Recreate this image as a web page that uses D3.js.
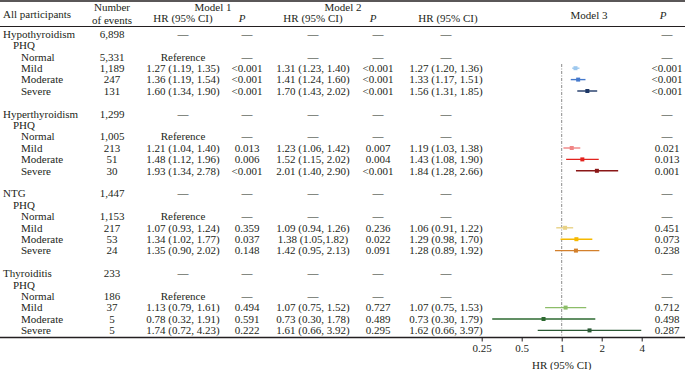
<!DOCTYPE html>
<html><head><meta charset="utf-8">
<script src="https://cdn.jsdelivr.net/npm/d3@7"></script>
<style>
body{margin:0;background:#fff;}
svg text{font-family:"Liberation Serif","DejaVu Serif",serif;font-size:11px;fill:#231f20;}
</style></head><body>
<svg id="c" width="685" height="370"></svg>
<script>
const groups = ["Hypothyroidism","Hyperthyroidism","NTG","Thyroiditis"];
const groupEvents = ["6,898","1,299","1,447","233"];
const levels = ["Normal","Mild","Moderate","Severe"];
const events = [["5,331","1,189","247","131"],["1,005","213","51","30"],["1,153","217","53","24"],["186","37","5","5"]];
const m1Text = [["1.27 (1.19, 1.35)","1.36 (1.19, 1.54)","1.60 (1.34, 1.90)"],["1.21 (1.04, 1.40)","1.48 (1.12, 1.96)","1.93 (1.34, 2.78)"],["1.07 (0.93, 1.24)","1.34 (1.02, 1.77)","1.35 (0.90, 2.02)"],["1.13 (0.79, 1.61)","0.78 (0.32, 1.91)","1.74 (0.72, 4.23)"]];
const m1P = [["<0.001","<0.001","<0.001"],["0.013","0.006","<0.001"],["0.359","0.037","0.148"],["0.494","0.591","0.222"]];
const m2Text = [["1.31 (1.23, 1.40)","1.41 (1.24, 1.60)","1.70 (1.43, 2.02)"],["1.23 (1.06, 1.42)","1.52 (1.15, 2.02)","2.01 (1.40, 2.90)"],["1.09 (0.94, 1.26)","1.38 (1.05,1.82)","1.42 (0.95, 2.13)"],["1.07 (0.75, 1.52)","0.73 (0.30, 1.78)","1.61 (0.66, 3.92)"]];
const m2P = [["<0.001","<0.001","<0.001"],["0.007","0.004","<0.001"],["0.236","0.022","0.091"],["0.727","0.489","0.295"]];
const m3HR = [[1.27,1.33,1.56],[1.19,1.43,1.84],[1.06,1.29,1.28],[1.07,0.73,1.62]];
const m3Lo = [[1.20,1.17,1.31],[1.03,1.08,1.28],[0.91,0.98,0.89],[0.75,0.30,0.66]];
const m3Hi = [[1.36,1.51,1.85],[1.38,1.90,2.66],[1.22,1.70,1.92],[1.53,1.79,3.97]];
const m3P = [["<0.001","<0.001","<0.001"],["0.021","0.013","0.001"],["0.451","0.073","0.238"],["0.712","0.498","0.287"]];
const colors = [["#9dc8ee","#4579cc","#1d3766"],["#f08585","#e2231e","#8a1717"],["#e8d286","#f6b900","#d3802c"],["#8cbd68","#2d6a30","#2a5934"]];
const ticks = [0.25,0.5,1,2,4];

const svg = d3.select("#c");
const W = 685;
const rowY = i => 34 + i*11.4;
const col = {lab:3, phq:13, lev:21, ev:112, hr1:183, p1:247, hr2:313, p2:378, hr3:446, p3:667};
const dash = "\u2014";

function txt(x,y,s,anchor,extra){
  const t = svg.append("text").attr("x",x).attr("y",y).attr("dy","0.35em").attr("text-anchor",anchor||"middle").text(s);
  if(extra) extra(t);
  return t;
}
// lines
svg.append("line").attr("x1",0).attr("x2",W).attr("y1",1).attr("y2",1).attr("stroke","#231f20").attr("stroke-width",1.5);
svg.append("line").attr("x1",0).attr("x2",W).attr("y1",26.5).attr("y2",26.5).attr("stroke","#231f20").attr("stroke-width",1);
svg.append("line").attr("x1",0).attr("x2",W).attr("y1",337.5).attr("y2",337.5).attr("stroke","#231f20").attr("stroke-width",1.3);

// header
txt(col.lab,14,"All participants","start");
txt(col.ev,7,"Number");
txt(col.ev,20.5,"of events");
txt(213,7,"Model 1");
txt(343,7,"Model 2");
txt(col.hr1,18.5,"HR (95% CI)");
txt(col.hr2,18.5,"HR (95% CI)");
txt(448,18.5,"HR (95% CI)");
const it = t=>t.attr("font-style","italic");
txt(242,18.5,"P","middle",it);
txt(373,18.5,"P","middle",it);
txt(589,15,"Model 3");
txt(663,15,"P","middle",it);

const x = d3.scaleLog().base(2).domain([0.25,4]).range([481.7,641.7]);

// reference line
svg.append("line").attr("x1",x(1)).attr("x2",x(1)).attr("y1",64).attr("y2",337)
  .attr("stroke","#8a8a8a").attr("stroke-width",1).attr("stroke-dasharray","3,1.5,1,1.5");

groups.forEach((g,gi)=>{
  const b = gi*7;
  txt(col.lab,rowY(b),g,"start");
  txt(col.ev,rowY(b),groupEvents[gi]);
  [col.hr1,col.p1,col.hr2,col.p2,col.hr3,col.p3].forEach(cx=>txt(cx,rowY(b),dash));
  txt(col.phq,rowY(b+1),"PHQ","start");
  levels.forEach((lv,li)=>{
    const y = rowY(b+2+li);
    txt(col.lev,y,lv,"start");
    txt(col.ev,y,events[gi][li]);
    if(li===0){
      txt(col.hr1,y,"Reference");
      [col.p1,col.hr2,col.p2,col.hr3,col.p3].forEach(cx=>txt(cx,y,dash));
    } else {
      const k = li-1;
      txt(col.hr1,y,m1Text[gi][k]);
      txt(col.p1,y,m1P[gi][k]);
      txt(col.hr2,y,m2Text[gi][k]);
      txt(col.p2,y,m2P[gi][k]);
      const hrs = m3HR[gi][k].toFixed(2)+" ("+m3Lo[gi][k].toFixed(2)+", "+m3Hi[gi][k].toFixed(2)+")";
      txt(col.hr3,y,hrs);
      txt(col.p3,y,m3P[gi][k]);
      const c = colors[gi][k];
      svg.append("line").attr("x1",x(m3Lo[gi][k])).attr("x2",x(m3Hi[gi][k])).attr("y1",y).attr("y2",y)
        .attr("stroke",c).attr("stroke-width",1.4);
      svg.append("rect").attr("x",x(m3HR[gi][k])-2).attr("y",y-2).attr("width",4).attr("height",4).attr("fill",c);
    }
  });
});

// axis
const ax = svg.append("g").attr("transform","translate(0,337.5)")
  .call(d3.axisBottom(x).tickValues(ticks).tickSize(4).tickPadding(3).tickFormat(d=>String(d)));
ax.select(".domain").remove();
ax.selectAll(".tick line").attr("stroke","#231f20");
ax.selectAll(".tick text").attr("font-family",null).attr("font-size",null).style("fill","#231f20");
txt(x(1),365,"HR (95% CI)");
</script>
</body></html>
